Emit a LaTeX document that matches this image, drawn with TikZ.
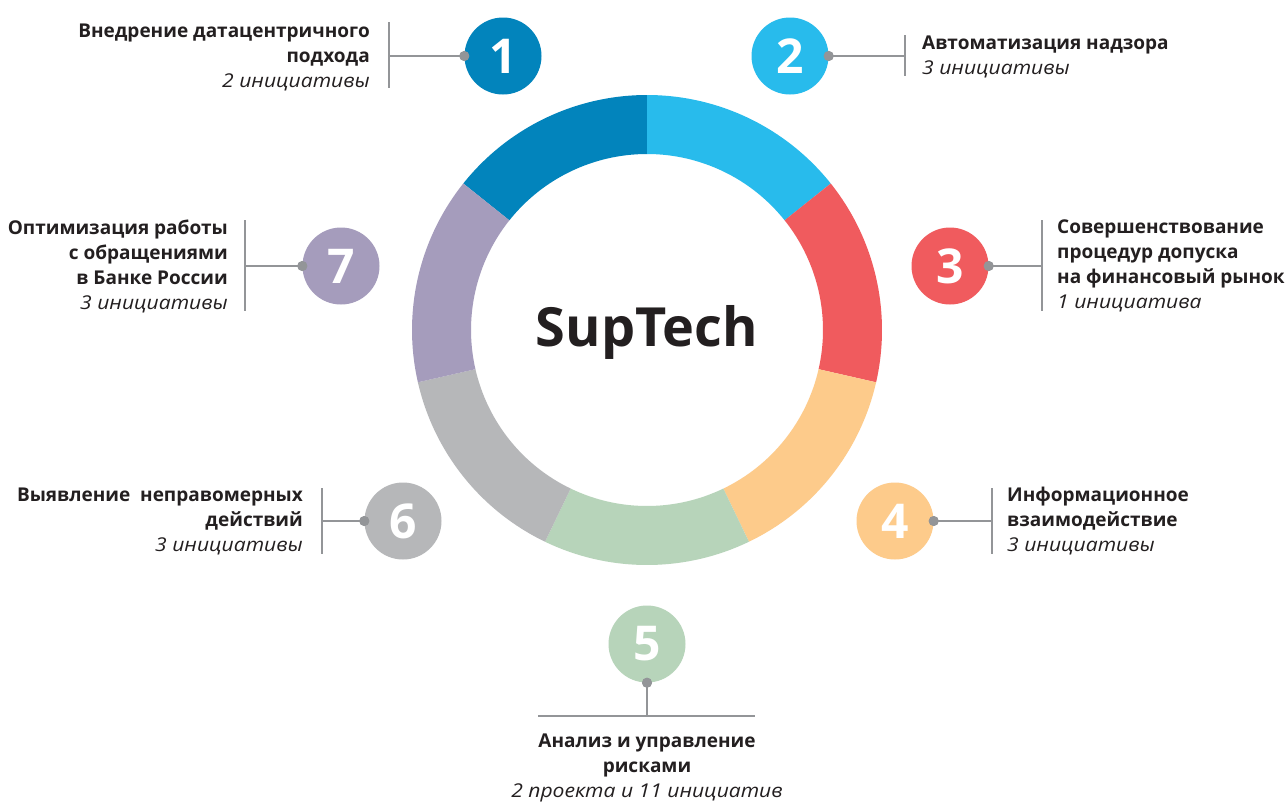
\documentclass[tikz,border=0pt]{standalone}
\usepackage{fontspec}
\setmainfont{Open Sans}[ItalicFeatures={FakeStretch=1.11}]
\definecolor{cA}{HTML}{0284BC}
\definecolor{cB}{HTML}{28BBEC}
\definecolor{cC}{HTML}{F05B5E}
\definecolor{cD}{HTML}{FDCB8B}
\definecolor{cE}{HTML}{B7D4BA}
\definecolor{cF}{HTML}{B6B7B9}
\definecolor{cG}{HTML}{A59CBC}
\definecolor{ink}{HTML}{231F20}
\definecolor{lgray}{HTML}{939598}
\begin{document}
\begin{tikzpicture}[x=1pt,y=-1pt,
  num/.style={circle, minimum size=77pt, inner sep=0pt, text=white, font=\fontsize{48}{48}\selectfont\bfseries},
  dotmark/.style={circle, fill=lgray, minimum size=10pt, inner sep=0pt},
  conn/.style={draw=lgray, line width=2.2pt},
  lbl/.style={text=ink, font=\fontsize{19}{25}\selectfont, inner sep=0pt},
  seg/.style={draw=none}]
\useasboundingbox[fill=white] (0,0) rectangle (1285,804);
% ring
\begin{scope}[shift={(647,330)}, yscale=-1]
\def\Ro{235}\def\Ri{176}
\foreach \a/\b/\c in {90/141.43/cA, 38.57/90/cB, -12.86/38.57/cC, -64.29/-12.86/cD, -115.71/-64.29/cE, -167.14/-115.71/cF, 141.43/192.86/cG}{
  \fill[\c] (\a:\Ro) arc[start angle=\a, end angle=\b, radius=\Ro] -- (\b:\Ri) arc[start angle=\b, end angle=\a, radius=\Ri] -- cycle;
}
\end{scope}
\node[text=ink, font=\fontsize{54}{54}\selectfont\bfseries] (title) at (647,332) {SupTech};
% number circles
\node[num, fill=cA] (n1) at (503,56) {1};
\node[num, fill=cB] (n2) at (790,56) {2};
\node[num, fill=cC] (n3) at (950,266) {3};
\node[num, fill=cD] (n4) at (895,521) {4};
\node[num, fill=cE] (n5) at (647,644) {5};
\node[num, fill=cF] (n6) at (403,521) {6};
\node[num, fill=cG] (n7) at (341,266) {7};
% bars
\coordinate (b1t) at (389,22); \coordinate (b1b) at (389,88); \coordinate (b1) at (389,56);
\coordinate (b2t) at (905,35); \coordinate (b2b) at (905,76); \coordinate (b2) at (905,56);
\coordinate (b3t) at (1042,220); \coordinate (b3b) at (1042,311); \coordinate (b3) at (1042,266);
\coordinate (b7t) at (245,220); \coordinate (b7b) at (245,311); \coordinate (b7) at (245,266);
\coordinate (b6t) at (322,488); \coordinate (b6b) at (322,554); \coordinate (b6) at (322,521);
\coordinate (b4t) at (992,488); \coordinate (b4b) at (992,554); \coordinate (b4) at (992,521);
\coordinate (b5l) at (538,716); \coordinate (b5r) at (755,716); \coordinate (b5) at (647,716);
\foreach \i in {1,2,3,4,6,7}{\draw[conn] (b\i t) -- (b\i b);}
\draw[conn] (b5l) -- (b5r);
% dots
\node[dotmark] (d1) at (n1.west) {};
\node[dotmark] (d2) at (n2.east) {};
\node[dotmark] (d3) at (n3.east) {};
\node[dotmark] (d4) at (n4.east) {};
\node[dotmark] (d5) at (n5.south) {};
\node[dotmark] (d6) at (n6.west) {};
\node[dotmark] (d7) at (n7.west) {};
\foreach \i in {1,2,3,4,5,6,7}{\draw[conn] (d\i.center) -- (b\i);}
\foreach \i in {1,2,3,4,5,6,7}{\node[dotmark] at (d\i) {};}
% labels
\node[lbl, align=right, anchor=east] (t1) at (370,57) {\textbf{Внедрение датацентричного}\\\textbf{подхода}\\\textit{2 инициативы}};
\node[lbl, align=left, anchor=west] (t2) at (922,57) {\textbf{Автоматизация надзора}\\\textit{3 инициативы}};
\node[lbl, align=left, anchor=west] (t3) at (1057,266) {\textbf{Совершенствование}\\\textbf{процедур допуска}\\\textbf{на финансовый рынок}\\\textit{1 инициатива}};
\node[lbl, align=right, anchor=east] (t7) at (228,266) {\textbf{Оптимизация работы}\\\textbf{с обращениями}\\\textbf{в Банке России}\\\textit{3 инициативы}};
\node[lbl, align=right, anchor=east] (t6) at (303,521) {\textbf{Выявление\ \ неправомерных}\\\textbf{действий}\\\textit{3 инициативы}};
\node[lbl, align=left, anchor=west] (t4) at (1007,521) {\textbf{Информационное}\\\textbf{взаимодействие}\\\textit{3 инициативы}};
\node[lbl, align=center, anchor=center] (t5) at (647,768) {\textbf{Анализ и управление}\\\textbf{рисками}\\\textit{2 проекта и 11 инициатив}};
\end{tikzpicture}
\end{document}
